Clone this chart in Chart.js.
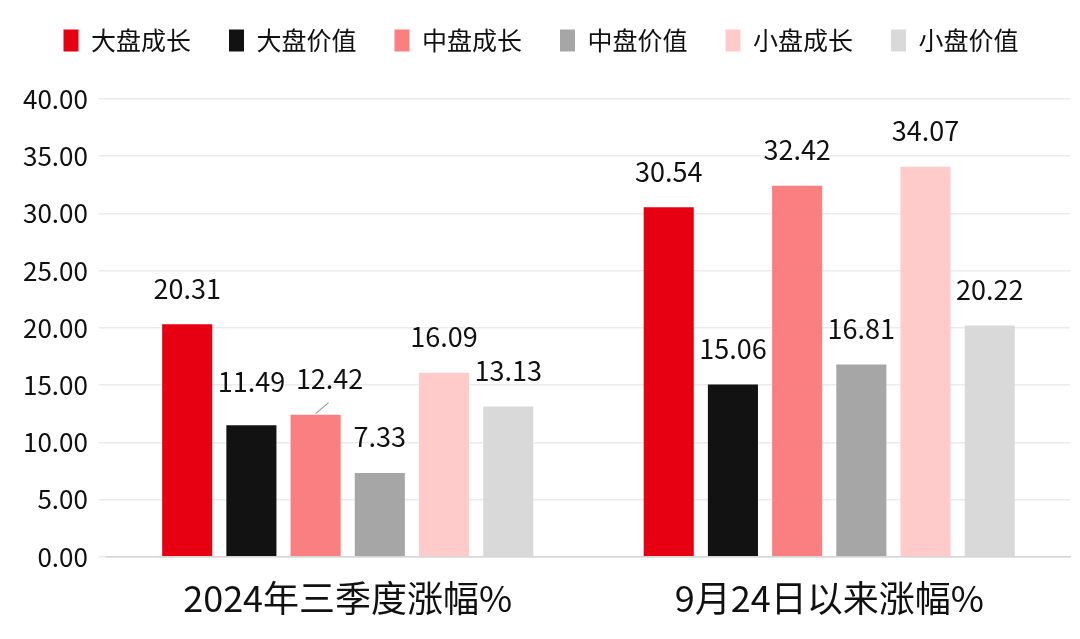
<!DOCTYPE html>
<html lang="zh">
<head>
    <meta charset="UTF-8">
    <title>大中小盘涨幅</title>
    <script src="https://cdn.jsdelivr.net/npm/chart.js"></script>
    <style>
        body { margin: 0; background: #fff; }
        #wrap { width: 1080px; height: 639px; }
    </style>
</head>
<body>
    <div id="wrap"><canvas id="c" width="1080" height="639"></canvas></div>
    <script>
        // 数据
        const categories = ["2024年三季度涨幅%", "9月24日以来涨幅%"];
        const seriesNames = ["大盘成长", "大盘价值", "中盘成长", "中盘价值", "小盘成长", "小盘价值"];
        const largeGrowth = [20.31, 30.54];
        const largeValue  = [11.49, 15.06];
        const midGrowth   = [12.42, 32.42];
        const midValue    = [7.33, 16.81];
        const smallGrowth = [16.09, 34.07];
        const smallValue  = [13.13, 20.22];
        const yTicks = [0, 5, 10, 15, 20, 25, 30, 35, 40];

        const colors = ["#E60012", "#121212", "#FA7F80", "#A6A6A6", "#FFCACA", "#D9D9D9"];
        const allSeries = [largeGrowth, largeValue, midGrowth, midValue, smallGrowth, smallValue];

        const FONT = "'Noto Sans CJK SC', 'Noto Sans', sans-serif";

        // 数据标签（个别标签手动偏移，带引导线）
        const labelShift = { "1-0": [0, -8], "2-0": [14, 0] };
        const leaderLines = { "2-0": true };

        const valueLabels = {
            id: "valueLabels",
            afterDatasetsDraw(chart) {
                const ctx = chart.ctx;
                ctx.save();
                ctx.font = "27px " + FONT;
                ctx.fillStyle = "#111";
                ctx.textAlign = "center";
                ctx.textBaseline = "middle";
                chart.data.datasets.forEach((ds, di) => {
                    chart.getDatasetMeta(di).data.forEach((bar, i) => {
                        const key = di + "-" + i;
                        const s = labelShift[key] || [0, 0];
                        const x = bar.x + s[0];
                        const y = bar.y - 36 + s[1];
                        if (leaderLines[key]) {
                            ctx.strokeStyle = "#999";
                            ctx.lineWidth = 1.2;
                            ctx.beginPath();
                            ctx.moveTo(bar.x, bar.y - 1);
                            ctx.lineTo(bar.x + 13, bar.y - 12);
                            ctx.stroke();
                        }
                        ctx.fillText(ds.data[i].toFixed(2), x, y);
                    });
                });
                ctx.restore();
            }
        };

        // 图例下方留白
        const legendGap = {
            id: "legendGap",
            beforeInit(chart) {
                const fit = chart.legend.fit;
                chart.legend.fit = function () {
                    fit.call(this);
                    this.height += 36;
                };
            }
        };

        new Chart(document.getElementById("c"), {
            type: "bar",
            data: {
                labels: categories,
                datasets: seriesNames.map((name, i) => ({
                    label: name,
                    data: allSeries[i],
                    backgroundColor: colors[i],
                    barPercentage: 0.78,
                    categoryPercentage: 0.8
                }))
            },
            options: {
                responsive: false,
                animation: false,
                layout: { padding: { left: 12, right: 10, top: -10, bottom: 7 } },
                plugins: {
                    tooltip: { enabled: false },
                    legend: {
                        position: "top",
                        labels: {
                            boxWidth: 15,
                            boxHeight: 22,
                            padding: 38,
                            color: "#111",
                            font: { size: 25, family: FONT }
                        }
                    }
                },
                scales: {
                    x: {
                        grid: { display: false },
                        border: { color: "#d4d4d4", width: 1.5 },
                        ticks: {
                            color: "#111",
                            padding: 12,
                            font: { size: 36, family: FONT }
                        }
                    },
                    y: {
                        min: 0,
                        max: 40,
                        afterBuildTicks: axis => { axis.ticks = yTicks.map(v => ({ value: v })); },
                        grid: { color: "#ebebeb", lineWidth: 1.5 },
                        border: { display: false },
                        ticks: {
                            color: "#111",
                            padding: 11,
                            font: { size: 26, family: FONT },
                            callback: v => Number(v).toFixed(2)
                        }
                    }
                }
            },
            plugins: [valueLabels, legendGap]
        });
    </script>
</body>
</html>
